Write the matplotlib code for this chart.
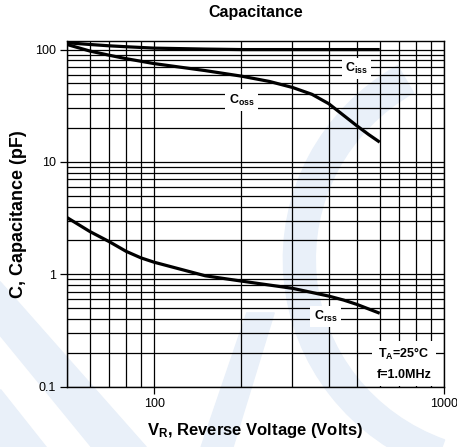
import matplotlib
matplotlib.use("Agg")
import matplotlib.pyplot as plt
from matplotlib.patches import Polygon, Wedge
from matplotlib.ticker import LogLocator, NullFormatter, FixedLocator, FixedFormatter

plt.rcParams["font.family"] = ["Liberation Sans", "DejaVu Sans"]
plt.rcParams["mathtext.fontset"] = "custom"
plt.rcParams["mathtext.rm"] = "Liberation Sans"
plt.rcParams["mathtext.bf"] = "Liberation Sans:bold"
plt.rcParams["mathtext.it"] = "Liberation Sans:italic"

# curvas de capacitancia x tensao reversa
v_iss = [50, 60, 70, 80, 100, 150, 200, 300, 400, 500, 600]
c_iss = [115, 111, 108, 106, 103, 101, 100, 100, 100, 100, 100]

v_oss = [50, 60, 70, 80, 100, 150, 200, 250, 300, 350, 400, 450, 500, 550, 600]
c_oss = [111, 97, 89, 83, 75, 65, 58, 52, 46, 40, 33, 26, 21, 17.5, 15]

v_rss = [50, 60, 70, 80, 90, 100, 150, 200, 300, 400, 450, 500, 600]
c_rss = [3.2, 2.4, 1.95, 1.6, 1.4, 1.28, 0.97, 0.87, 0.75, 0.64, 0.59, 0.54, 0.45]

y_ticks = [0.1, 1, 10, 100]
y_tick_labels = ["0.1", "1", "10", "100"]
x_ticks = [100, 1000]
x_tick_labels = ["100", "1000"]

fig = plt.figure(figsize=(4.57, 4.47), dpi=100)

# marca d'agua azul clara ao fundo
wm = "#e9f0f9"
fig.patches.append(Polygon([[0.0, 0.37], [0.0, 0.25], [0.20, 0.0], [0.32, 0.0]],
                           closed=True, transform=fig.transFigure, color=wm, zorder=-5))
fig.patches.append(Polygon([[0.0, 0.13], [0.0, 0.0], [0.10, 0.0]],
                           closed=True, transform=fig.transFigure, color=wm, zorder=-5))
fig.patches.append(Polygon([[0.44, 0.0], [0.51, 0.0], [0.60, 0.30], [0.54, 0.30]],
                           closed=True, transform=fig.transFigure, color=wm, zorder=-5))
fig.patches.append(Wedge((1.12, 0.42), 0.50, 120, 250, width=0.07,
                         transform=fig.transFigure, color=wm, zorder=-5))

ax = fig.add_axes([0.1466, 0.135, 0.825, 0.774])
ax.patch.set_alpha(0)

ax.set_xscale("log")
ax.set_yscale("log")
ax.set_xlim(50, 1000)
ax.set_ylim(0.1, 120)

ax.plot(v_iss, c_iss, color="black", lw=2.3, solid_capstyle="butt", zorder=3)
ax.plot(v_oss, c_oss, color="black", lw=2.3, solid_capstyle="butt", zorder=3)
ax.plot(v_rss, c_rss, color="black", lw=2.3, solid_capstyle="butt", zorder=3)

ax.yaxis.set_major_locator(FixedLocator(y_ticks))
ax.yaxis.set_major_formatter(FixedFormatter(y_tick_labels))
ax.xaxis.set_major_locator(FixedLocator(x_ticks))
ax.xaxis.set_major_formatter(FixedFormatter(x_tick_labels))
ax.xaxis.set_minor_locator(LogLocator(base=10, subs=range(2, 10)))
ax.yaxis.set_minor_locator(LogLocator(base=10, subs=range(2, 10)))
ax.xaxis.set_minor_formatter(NullFormatter())
ax.yaxis.set_minor_formatter(NullFormatter())

ax.grid(True, which="both", color="black", lw=0.9, zorder=1)
ax.set_axisbelow(True)
ax.tick_params(which="major", direction="out", length=5, width=0.9, labelsize=9, pad=3)
ax.tick_params(which="minor", length=0)
for s in ax.spines.values():
    s.set_linewidth(1.0)

box = dict(boxstyle="square,pad=0.25", fc="white", ec="none")
ax.text(500, 68, r"$\mathbf{C_{iss}}$", ha="center", va="center", fontsize=9, bbox=box, zorder=4)
ax.text(200, 35.5, r"$\mathbf{C_{oss}}$", ha="center", va="center", fontsize=9, bbox=box, zorder=4)
ax.text(390, 0.42, r"$\mathbf{C_{rss}}$", ha="center", va="center", fontsize=9, bbox=box, zorder=4)
ax.text(726, 0.16, "$\\mathbf{T_A}$=25°C\nf=1.0MHz", ha="center", va="center", fontsize=9,
        fontweight="bold", linespacing=1.8,
        bbox=dict(boxstyle="square,pad=0.35", fc="white", ec="none"), zorder=4)

ax.set_title("Capacitance", fontsize=11.5, fontweight="bold", pad=17)
ax.set_xlabel(r"$\mathbf{V_R}$, Reverse Voltage (Volts)", fontsize=12, fontweight="bold", labelpad=8)
ax.set_ylabel("C, Capacitance (pF)", fontsize=13, fontweight="bold")
ax.yaxis.set_label_coords(-0.105, 0.5)

fig.savefig("out.png", dpi=100)
